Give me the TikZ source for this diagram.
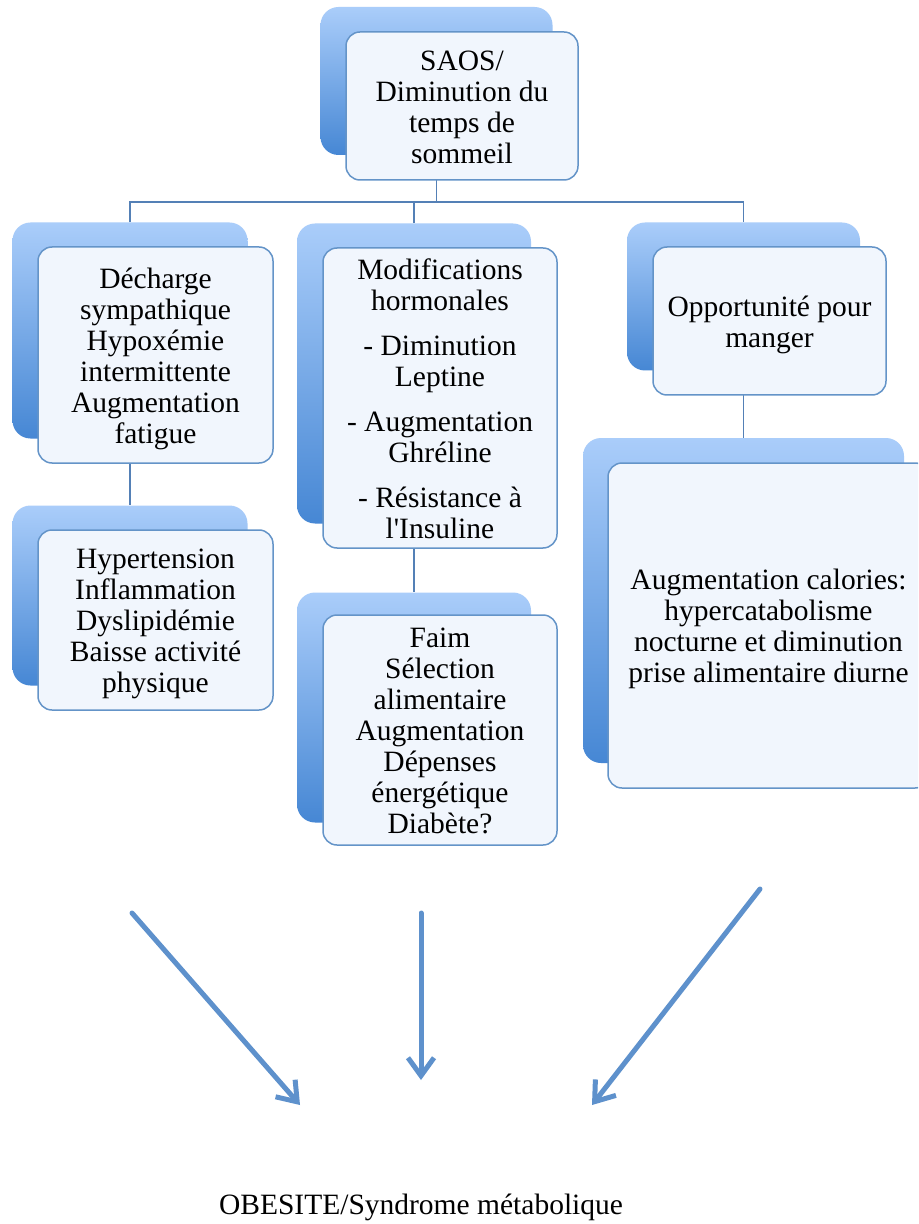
\documentclass[tikz,border=0pt]{standalone}
\usepackage{fontspec}
\setmainfont{Liberation Serif}
\newfontfamily\timesf{Liberation Serif}
\usetikzlibrary{arrows.meta}
\definecolor{bTop}{RGB}{170,205,250}
\definecolor{bBot}{RGB}{70,135,212}
\definecolor{edgecol}{RGB}{100,148,200}
\definecolor{frfill}{RGB}{241,246,253}
\definecolor{conncol}{RGB}{84,128,182}
\definecolor{arrcol}{RGB}{94,145,204}
\newcommand{\boxfont}{\timesf\fontsize{14.75}{15.5}\selectfont}
\newcommand{\lines}[1]{\begin{tabular}{@{}c@{}}#1\end{tabular}}
\tikzset{
 backbox/.style={rounded corners=9pt, top color=bTop, bottom color=bBot, draw=none, inner sep=0pt},
 frontbox/.style={rounded corners=7pt, draw=edgecol, line width=0.75pt, fill=frfill, inner sep=0pt},
 conn/.style={draw=conncol, line width=0.9pt},
 bigarrow/.style={draw=arrcol, line width=2.5pt, line cap=round, -{Straight Barb[length=9pt,width=13pt]}},
 labeltext/.style={font=\boxfont, inner sep=0pt},
 boxtext/.style={font=\boxfont, inner sep=0pt, yshift=-2.3pt},
}
\begin{document}
\begin{tikzpicture}[x=0.5pt,y=-0.5pt]
\fill[white] (0,0) rectangle (918,1224);
\clip (0,0) rectangle (918,1224);
% back shapes
\node[backbox, minimum width=116pt, minimum height=74pt] (saosB) at (436.5,81) {};
\node[backbox, minimum width=117.5pt, minimum height=108pt] (d1B) at (130,330.5) {};
\node[backbox, minimum width=117.5pt, minimum height=90pt] (d2B) at (130,595.5) {};
\node[backbox, minimum width=117pt, minimum height=150pt] (m1B) at (414,373.5) {};
\node[backbox, minimum width=117pt, minimum height=115pt] (m2B) at (414,707.5) {};
\node[backbox, minimum width=116.5pt, minimum height=74pt] (r1B) at (743.5,296.5) {};
\node[backbox, minimum width=160.5pt, minimum height=162.5pt] (r2B) at (743.5,600.5) {};
% connectors
\coordinate (bus) at (0,202);
\draw[conn] (saosB.south) -- (saosB.south |- bus);
\draw[conn] (d1B.north) |- (bus -| r1B.north) -- (r1B.north);
\draw[conn] (m1B.north) -- (m1B.north |- bus);
\draw[conn] (d1B.south) -- (d2B.north);
\draw[conn] (m1B.south) -- (m2B.north);
\draw[conn] (r1B.south) -- (r2B.north);
% front boxes
\node[frontbox, minimum width=116pt, minimum height=74pt] (saos) at (462,106) {};
\node[frontbox, minimum width=117.5pt, minimum height=108pt] (d1) at (155.5,355) {};
\node[frontbox, minimum width=117.5pt, minimum height=90pt] (d2) at (155.5,620) {};
\node[frontbox, minimum width=117pt, minimum height=150pt] (m1) at (440,398) {};
\node[frontbox, minimum width=117pt, minimum height=115pt] (m2) at (440,730) {};
\node[frontbox, minimum width=116.5pt, minimum height=74pt] (r1) at (769.5,321) {};
\node[frontbox, minimum width=160.5pt, minimum height=162.5pt] (r2) at (768.5,625.5) {};
% texts
\node[boxtext] (saosT) at (saos.center) {\lines{SAOS/\\Diminution du\\temps de\\sommeil}};
\node[boxtext] (d1T) at (d1.center) {\lines{Décharge\\sympathique\\Hypoxémie\\intermittente\\Augmentation\\fatigue}};
\node[boxtext] (d2T) at (d2.center) {\lines{Hypertension\\Inflammation\\Dyslipidémie\\Baisse activité\\physique}};
\node[boxtext] (m1T) at (m1.center) {\lines{Modifications\\hormonales\\[7pt]- Diminution\\Leptine\\[7pt]- Augmentation\\Ghréline\\[7pt]- Résistance à\\l'Insuline}};
\node[boxtext] (m2T) at (m2.center) {\lines{Faim\\Sélection\\alimentaire\\Augmentation\\Dépenses\\énergétique\\Diabète?}};
\node[boxtext] (r1T) at (r1.center) {\lines{Opportunité pour\\manger}};
\node[boxtext] (r2T) at (r2.center) {\lines{Augmentation calories:\\hypercatabolisme\\nocturne et diminution\\prise alimentaire diurne}};
% big arrows
\coordinate (a1s) at (132,913);
\coordinate (a1e) at (300,1105);
\coordinate (a2s) at (421,913);
\coordinate (a2e) at (421,1080);
\coordinate (a3s) at (760,889);
\coordinate (a3e) at (592,1105);
\draw[bigarrow] (a1s) -- (a1e);
\draw[bigarrow] (a2s) -- (a2e);
\draw[bigarrow] (a3s) -- (a3e);
\node[labeltext, anchor=base] (obes) at (421,1214) {OBESITE/Syndrome métabolique};
\end{tikzpicture}
\end{document}
